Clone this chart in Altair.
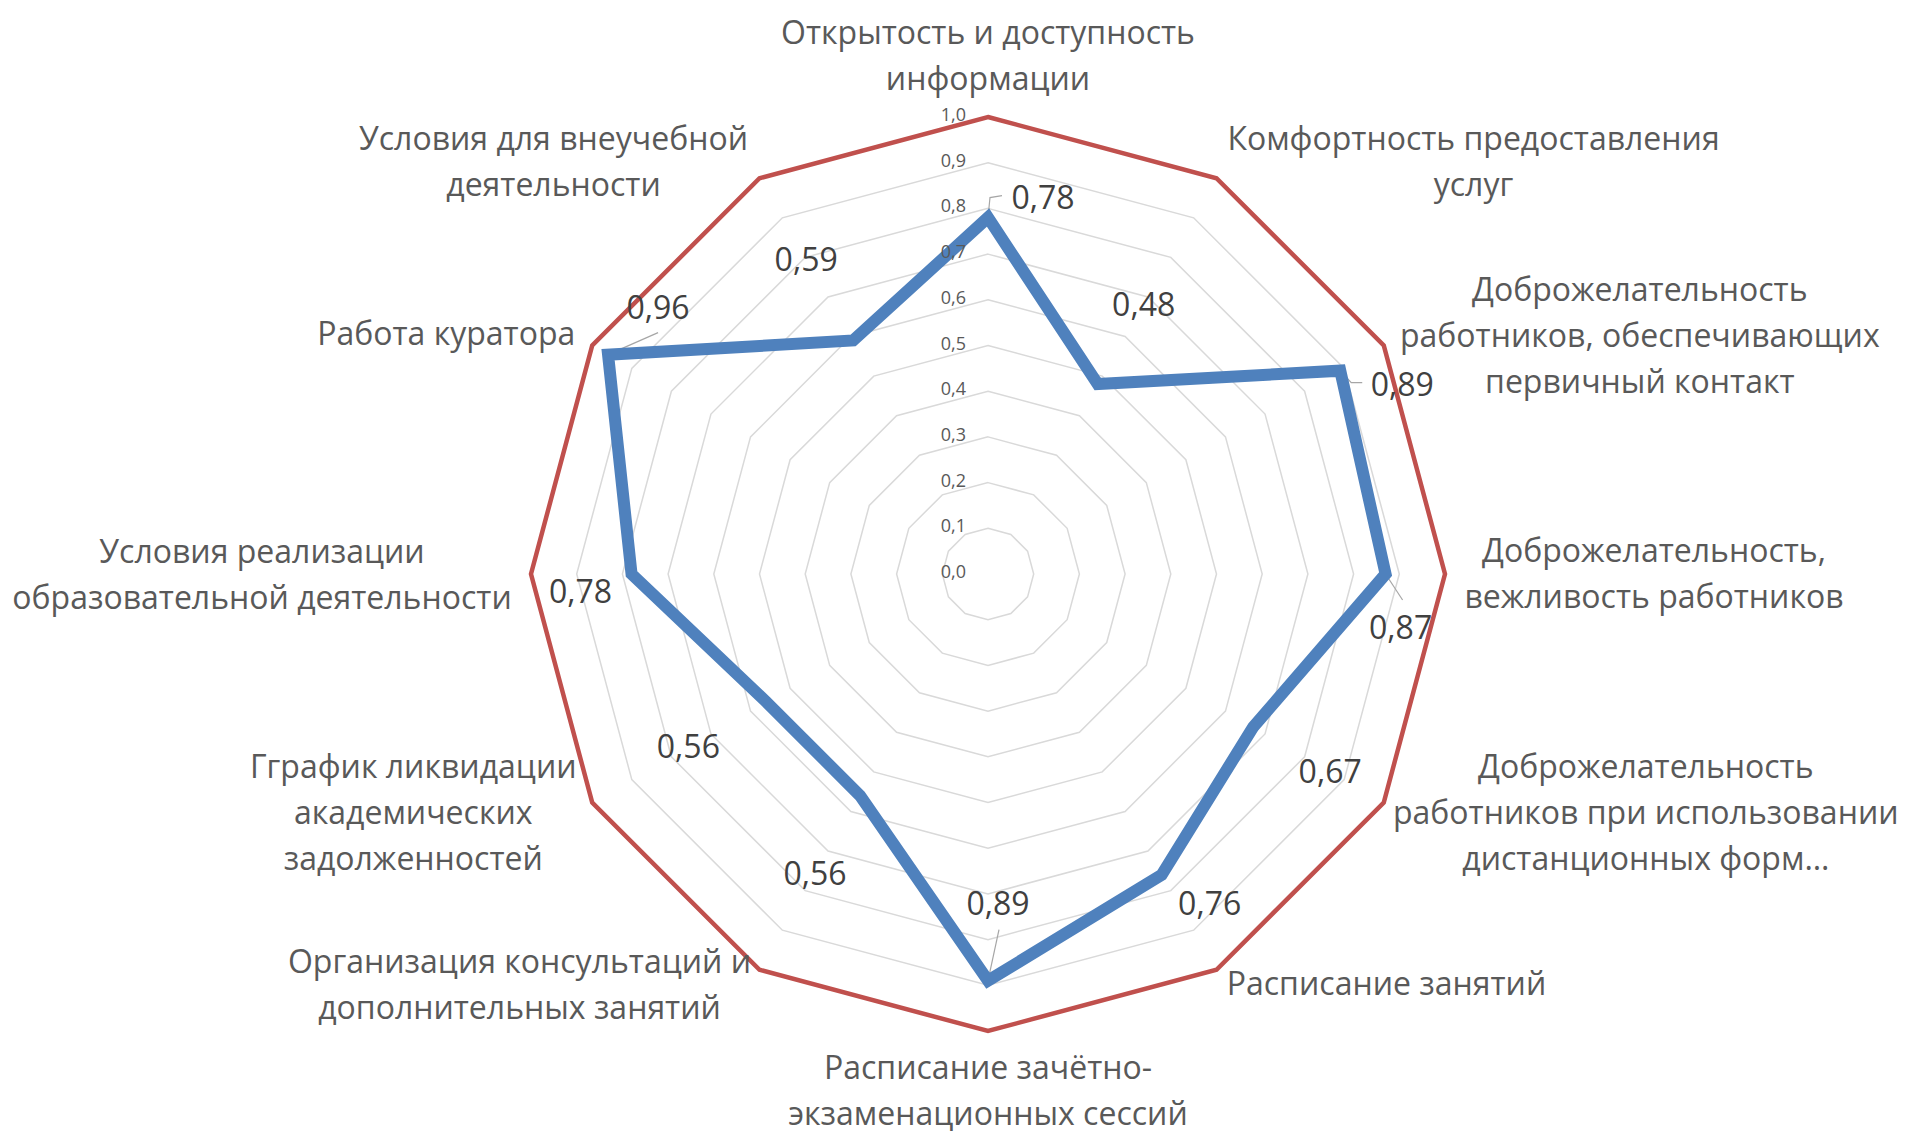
import math
import altair as alt
import pandas as pd

# ---------------- data ----------------
CATEGORIES = [
    "Открытость и доступность\nинформации",
    "Комфортность предоставления\nуслуг",
    "Доброжелательность\nработников, обеспечивающих\nпервичный контакт",
    "Доброжелательность,\nвежливость работников",
    "Доброжелательность\nработников при использовании\nдистанционных форм…",
    "Расписание занятий",
    "Расписание зачётно-\nэкзаменационных сессий",
    "Организация консультаций и\nдополнительных занятий",
    "Гграфик ликвидации\nакадемических\nзадолженностей",
    "Условия реализации\nобразовательной деятельности",
    "Работа куратора",
    "Условия для внеучебной\nдеятельности",
]
VALUES = [0.78, 0.48, 0.89, 0.87, 0.67, 0.76, 0.89, 0.56, 0.56, 0.78, 0.96, 0.59]
MAX_VALUES = [1.0] * 12
GRID_LEVELS = [0.1, 0.2, 0.3, 0.4, 0.5, 0.6, 0.7, 0.8, 0.9, 1.0]
AXIS_TICKS = [0.0, 0.1, 0.2, 0.3, 0.4, 0.5, 0.6, 0.7, 0.8, 0.9, 1.0]

# ---------------- layout (pixels) ----------------
W, H = 1894, 1127
CX, CY, R = 988 - 8, 574 - 8, 457.0
XMIN = -CX / R
XMAX = XMIN + W / R
YMAX = CY / R
YMIN = YMAX - H / R

CAT_FS = 32
CAT_LH = 46
LBL_FS = 32
TICK_FS = 18
# category label: (dx of text centre, dy of first baseline) from the outer vertex
CAT_OFFS = [(0, -73), (257, -28), (256, -45), (209, -12), (262, -25), (170, 25),
            (0, 48), (-240, 3), (-179, -25), (-269, -11), (-146, -1), (-206, -28)]
# data label centre offsets from the data vertex
LBL_OFFS = [(55, -20), (46, -79), (62, 14), (15, 54), (77, 45), (48, 29),
            (10, -77), (-45, 78), (-78, 45), (-51, 18), (50, -47), (-47, -80)]
# leader lines (index -> polyline offsets from the data vertex)
LEADERS = {0: [(0, 0), (2, -20), (14, -22)],
           2: [(0, 0), (11, 12), (22, 12)],
           3: [(0, 0), (17, 26)],
           6: [(0, 0), (11, -51)],
           10: [(0, 0), (50, -22)]}


def polar(v, k):
    a = math.radians(30 * k)
    return v * math.sin(a), v * math.cos(a)


def fmt(v, d):
    return f"{v:.{d}f}".replace(".", ",")


# rings
ring_rows = []
for lev in GRID_LEVELS:
    for k in range(12):
        x, y = polar(lev, k)
        ring_rows.append({"level": lev, "k": k, "x": x, "y": y})
rings = pd.DataFrame(ring_rows)

red_rows, blue_rows, dl_rows, cat_rows, lead_rows = [], [], [], [], []
for k in range(12):
    x, y = polar(MAX_VALUES[k], k)
    red_rows.append({"k": k, "x": x, "y": y})
    x, y = polar(VALUES[k], k)
    blue_rows.append({"k": k, "x": x, "y": y})
    dx, dy = LBL_OFFS[k]
    dl_rows.append({"x": x + dx / R, "y": y - (dy + 1) / R, "t": fmt(VALUES[k], 2)})
    if k in LEADERS:
        for i, (lx, ly) in enumerate(LEADERS[k]):
            lead_rows.append({"g": k, "i": i, "x": x + lx / R, "y": y - ly / R})
    ox, oy = polar(1.0, k)
    cdx, cdy = CAT_OFFS[k]
    top = cdy - round(0.79 * CAT_FS)
    cat_rows.append({"x": ox + cdx / R, "y": oy - top / R, "t": CATEGORIES[k]})

red = pd.DataFrame(red_rows)
blue = pd.DataFrame(blue_rows)
dlabels = pd.DataFrame(dl_rows)
cats = pd.DataFrame(cat_rows)
leads = pd.DataFrame(lead_rows)
ticks = pd.DataFrame({"x": [-22 / R] * len(AXIS_TICKS),
                      "y": [v + 1 / R for v in AXIS_TICKS],
                      "t": [fmt(v, 1) for v in AXIS_TICKS]})

xs = alt.Scale(domain=[XMIN, XMAX], nice=False, zero=False)
ys = alt.Scale(domain=[YMIN, YMAX], nice=False, zero=False)
X = alt.X("x:Q", scale=xs, axis=None)
Y = alt.Y("y:Q", scale=ys, axis=None)

ring_layer = alt.Chart(rings).mark_line(
    interpolate="linear-closed", color="#D9D9D9", strokeWidth=1.5
).encode(x=X, y=Y, detail="level:N", order="k:Q")

red_layer = alt.Chart(red).mark_line(
    interpolate="linear-closed", color="#C0504D", strokeWidth=4.5
).encode(x=X, y=Y, order="k:Q")

lead_layer = alt.Chart(leads).mark_line(
    color="#A6A6A6", strokeWidth=1.2
).encode(x=X, y=Y, detail="g:N", order="i:Q")

blue_layer = alt.Chart(blue).mark_line(
    interpolate="linear-closed", color="#4F81BD", strokeWidth=12, strokeJoin="miter"
).encode(x=X, y=Y, order="k:Q")

dl_layer = alt.Chart(dlabels).mark_text(
    font="Open Sans", fontSize=LBL_FS, color="#404040", align="center", baseline="middle"
).encode(x=X, y=Y, text="t:N")

cat_layer = alt.Chart(cats).mark_text(
    font="Open Sans", fontSize=CAT_FS, color="#595959", align="center",
    baseline="top", lineBreak="\n", lineHeight=CAT_LH
).encode(x=X, y=Y, text="t:N")

tick_layer = alt.Chart(ticks).mark_text(
    font="Open Sans", fontSize=TICK_FS, color="#595959", align="right", baseline="middle"
).encode(x=X, y=Y, text="t:N")

chart = alt.layer(
    ring_layer, red_layer, lead_layer, blue_layer, dl_layer, cat_layer, tick_layer
).properties(
    width=W, height=H, autosize=alt.AutoSizeParams(type="none"), padding=0,
    background="white"
).configure_view(stroke=None)

chart.save("out.html", embed_options={"renderer": "svg", "actions": False})
